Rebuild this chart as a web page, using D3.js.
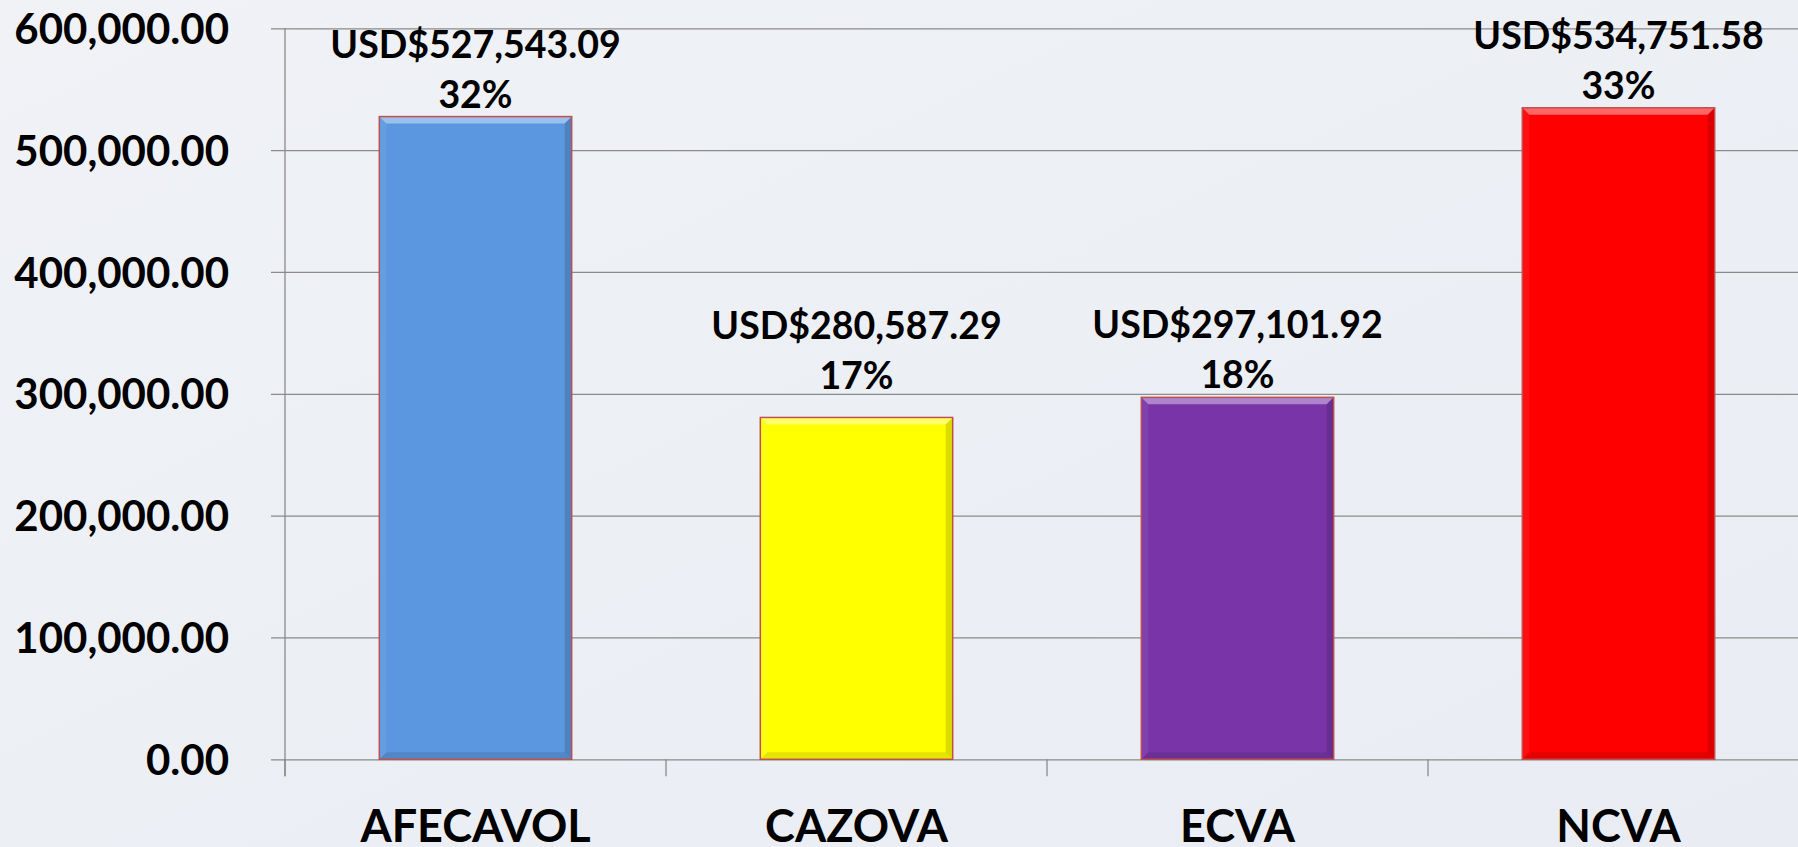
<!DOCTYPE html>
<html lang="es">
<head>
<meta charset="UTF-8" />
<title>Aportes por asociación</title>
<style>
  html, body { margin: 0; padding: 0; background: #edf0f5; overflow: hidden; }
  svg { display: block; }
  .axis text, .label { font-family: Lato, "Open Sans", sans-serif; font-weight: 700; fill: #000; }
  .axis path { display: none; }
  .grid line, .xticks line { stroke: #8a8a8a; stroke-width: 1.3; }
</style>
</head>
<body>
<svg id="chart"></svg>
<script src="https://d3js.org/d3.v7.min.js"></script>
<script>
  const categories = ["AFECAVOL", "CAZOVA", "ECVA", "NCVA"];
  const amounts = [527543.09, 280587.29, 297101.92, 534751.58];
  const colors = ["#5b97e0", "#ffff00", "#7935a8", "#ff0000"];
  const yTicks = [0, 100000, 200000, 300000, 400000, 500000, 600000];

  const width = 1798, height = 847;
  const plotLeft = 285, plotTop = 28.3, plotBottom = 759.3, bandStep = 381;

  const svg = d3.select("#chart").attr("width", width).attr("height", height);

  // faint backdrop
  const defs = svg.append("defs");
  const bg = defs.append("linearGradient").attr("id", "bg")
    .attr("x1", 0).attr("y1", 0).attr("x2", 1).attr("y2", 1);
  bg.append("stop").attr("offset", 0).attr("stop-color", "#f0f2f6");
  bg.append("stop").attr("offset", 0.5).attr("stop-color", "#eceff4");
  bg.append("stop").attr("offset", 1).attr("stop-color", "#e9edf3");
  svg.append("rect").attr("width", width).attr("height", height).attr("fill", "url(#bg)");

  const y = d3.scaleLinear().domain([0, 600000]).range([plotBottom, plotTop]);
  const xBand = d3.scaleBand().domain(categories)
    .range([plotLeft, plotLeft + bandStep * categories.length]).padding(0);
  const x = d3.scaleBand().domain(categories)
    .range(xBand.range()).paddingInner(0.495).paddingOuter(0.2475);

  // y axis with gridlines
  const fmtAxis = d3.format(",.2f");
  const yAxis = svg.append("g").attr("class", "axis grid")
    .attr("transform", `translate(${plotLeft},0)`)
    .call(d3.axisLeft(y).tickValues(yTicks).tickFormat(fmtAxis)
      .tickSize(-(width - plotLeft + 20)).tickPadding(56));
  yAxis.selectAll(".tick line").attr("x1", -14);
  yAxis.selectAll(".tick text").style("font-size", "42px").attr("dy", "0.36em");

  // vertical axis line
  svg.append("line")
    .attr("x1", plotLeft).attr("x2", plotLeft).attr("y1", plotTop).attr("y2", plotBottom + 17)
    .attr("stroke", "#8a8a8a").attr("stroke-width", 1.3);

  // category boundary ticks
  const bounds = categories.map(c => xBand(c)).concat([xBand.range()[1]]);
  svg.append("g").attr("class", "xticks").selectAll("line")
    .data(bounds).join("line")
    .attr("x1", d => d).attr("x2", d => d)
    .attr("y1", plotBottom).attr("y2", plotBottom + 17);

  // bars with bevel
  const bw = x.bandwidth(), b = 7;
  const bars = svg.append("g").selectAll("g")
    .data(categories).join("g")
    .attr("transform", c => `translate(${x(c)},0)`);

  bars.each(function(c, i) {
    const g = d3.select(this);
    const y0 = y(amounts[i]), h = plotBottom - y0, y1 = plotBottom;
    g.append("rect").attr("x", 0).attr("y", y0).attr("width", bw).attr("height", h)
      .attr("fill", colors[i]);
    g.append("polygon")
      .attr("points", `0,${y0} ${bw},${y0} ${bw - b},${y0 + b} ${b},${y0 + b}`)
      .attr("fill", "#fff").attr("opacity", 0.4);
    g.append("polygon")
      .attr("points", `0,${y0} ${b},${y0 + b} ${b},${y1 - b} 0,${y1}`)
      .attr("fill", "#fff").attr("opacity", 0.06);
    g.append("polygon")
      .attr("points", `${bw},${y0} ${bw},${y1} ${bw - b},${y1 - b} ${bw - b},${y0 + b}`)
      .attr("fill", "#000").attr("opacity", 0.14);
    g.append("polygon")
      .attr("points", `0,${y1} ${b},${y1 - b} ${bw - b},${y1 - b} ${bw},${y1}`)
      .attr("fill", "#000").attr("opacity", 0.1);
    g.append("rect").attr("x", 0).attr("y", y0).attr("width", bw).attr("height", h)
      .attr("fill", "none").attr("stroke", "#c0504d").attr("stroke-width", 1.5);
  });

  // data labels
  const total = d3.sum(amounts);
  const fmtPct = d3.format(".0%");
  const labelNudge = [0, -19, 0, 0];
  const labels = svg.append("g").selectAll("text")
    .data(categories).join("text")
    .attr("class", "label")
    .attr("text-anchor", "middle")
    .style("font-size", "37.5px")
    .attr("x", c => x(c) + bw / 2)
    .attr("y", (c, i) => y(amounts[i]) - 9 + labelNudge[i]);
  labels.append("tspan").attr("x", c => x(c) + bw / 2).attr("dy", "-50px")
    .text((c, i) => "USD$" + fmtAxis(amounts[i]));
  labels.append("tspan").attr("x", c => x(c) + bw / 2).attr("dy", "50px")
    .text((c, i) => fmtPct(amounts[i] / total));

  // category labels
  const xAxis = svg.append("g").attr("class", "axis")
    .attr("transform", `translate(0,${plotBottom})`)
    .call(d3.axisBottom(xBand).tickSize(0).tickPadding(51));
  xAxis.selectAll(".tick text").style("font-size", "45px");
</script>
</body>
</html>
